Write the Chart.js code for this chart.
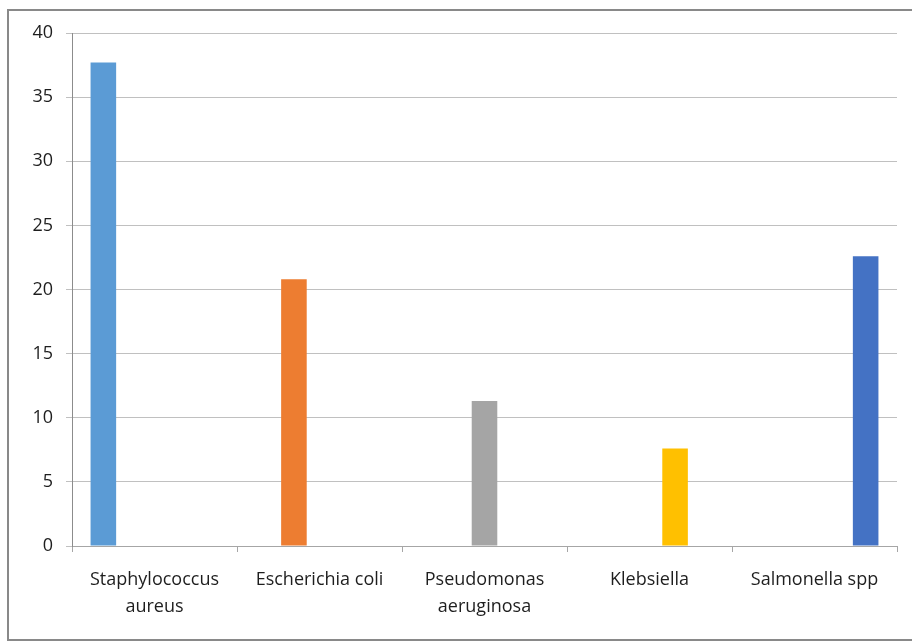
<!DOCTYPE html>
<html>
<head>
<meta charset="utf-8">
<script src="https://cdn.jsdelivr.net/npm/chart.js@4"></script>
<style>
    html, body { margin: 0; padding: 0; background: #ffffff; overflow: hidden; }
    #wrap { width: 912px; height: 642px; position: relative; }
</style>
</head>
<body>
<div id="wrap"><canvas id="bacteriaChart" width="912" height="642"></canvas></div>
<script>
// categories (x axis)
const categories = [
    ["Staphylococcus", "aureus"],
    "Escherichia coli",
    ["Pseudomonas", "aeruginosa"],
    "Klebsiella",
    "Salmonella spp",
];

// one series per organism, each only has its own category
const staphValues = [37.7, null, null, null, null];
const ecoliValues = [null, 20.8, null, null, null];
const pseudoValues = [null, null, 11.3, null, null];
const klebValues = [null, null, null, 7.6, null];
const salmonellaValues = [null, null, null, null, 22.6];

const seriesNames = ["Staphylococcus aureus", "Escherichia coli", "Pseudomonas aeruginosa", "Klebsiella", "Salmonella spp"];
const seriesColors = ["#5b9bd5", "#ed7d31", "#a5a5a5", "#ffc000", "#4472c4"];

// y axis
const yMin = 0;
const yMax = 40;
const yStep = 5;

document.addEventListener("DOMContentLoaded", function () {
    setChart();
});

// outer frame around the chart like the office chart border
const framePlugin = {
    id: "frame",
    beforeDraw: chart => {
        const ctx = chart.ctx;
        ctx.save();
        ctx.fillStyle = "#ffffff";
        ctx.fillRect(0, 0, chart.width, chart.height);
        ctx.strokeStyle = "#898989";
        ctx.lineWidth = 2;
        ctx.strokeRect(8, 10, 930, 630);
        ctx.restore();
    },
};

function setChart() {
    const ctx = document.getElementById("bacteriaChart").getContext("2d");
    const allValues = [staphValues, ecoliValues, pseudoValues, klebValues, salmonellaValues];

    new Chart(ctx, {
        type: "bar",
        data: {
            labels: categories,
            datasets: allValues.map((values, i) => ({
                label: seriesNames[i],
                data: values,
                backgroundColor: seriesColors[i],
                borderWidth: 0,
                categoryPercentage: 0.775,
                barPercentage: 1.0,
                skipNull: false,
            })),
        },
        options: {
            responsive: false,
            animation: false,
            devicePixelRatio: 1,
            layout: {
                padding: { left: 0, right: 15, top: 33, bottom: 0 },
            },
            plugins: {
                legend: { display: false },
                tooltip: { enabled: false },
            },
            scales: {
                x: {
                    grid: {
                        display: true,
                        drawOnChartArea: false,
                        drawTicks: true,
                        tickLength: 6,
                        color: "#a6a6a6",
                        offset: true,
                    },
                    border: { color: "#a6a6a6", width: 1 },
                    ticks: {
                        color: "#1e1e1e",
                        padding: 14,
                        maxRotation: 0,
                        autoSkip: false,
                        font: { family: "'Open Sans'", size: 18, lineHeight: 1.5 },
                    },
                    afterFit: scale => {
                        scale.height = 96;
                    },
                },
                y: {
                    min: yMin,
                    max: yMax,
                    grid: {
                        color: "#c0c0c0",
                        lineWidth: 1,
                        drawTicks: true,
                        tickLength: 6,
                    },
                    border: { color: "#8c8c8c", width: 1 },
                    ticks: {
                        stepSize: yStep,
                        color: "#1e1e1e",
                        padding: 13,
                        font: { family: "'Open Sans'", size: 18 },
                    },
                    afterFit: scale => {
                        scale.width = 72;
                    },
                },
            },
        },
        plugins: [framePlugin],
    });
}
</script>
</body>
</html>
